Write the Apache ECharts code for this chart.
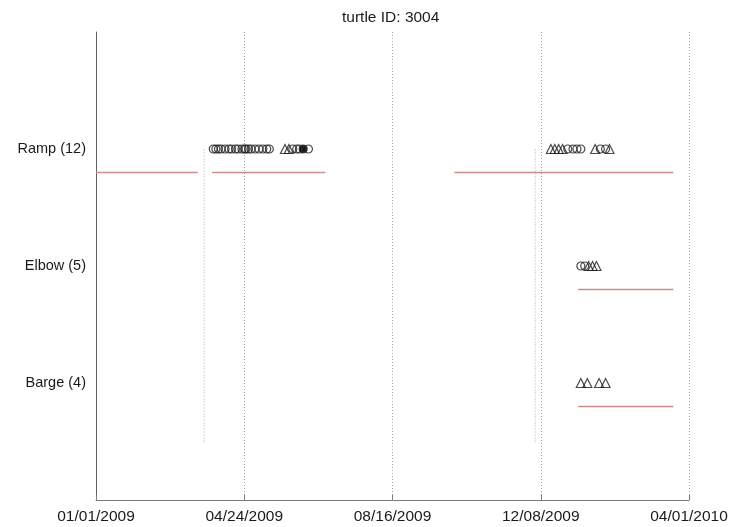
<!DOCTYPE html>
<html>
<head>
<meta charset="utf-8">
<script src="https://cdn.jsdelivr.net/npm/echarts@6/dist/echarts.min.js"></script>
<style>
  html, body { margin: 0; padding: 0; background: #fff; }
  #chart { width: 744px; height: 527px; }
</style>
</head>
<body>
<div id="chart"></div>
<script>
// Rows from bottom to top (y = 1, 2, 3)
const categories = ['Barge (4)', 'Elbow (5)', 'Ramp (12)'];
const tickLabels = ['01/01/2009', '04/24/2009', '08/16/2009', '12/08/2009', '04/01/2010'];

// Detections per site (dates)
const rampCircles = ['2009-04-01', '2009-04-03', '2009-04-05', '2009-04-07', '2009-04-10', '2009-04-13',
  '2009-04-15', '2009-04-18', '2009-04-20', '2009-04-23', '2009-04-25', '2009-04-26', '2009-04-28',
  '2009-04-30', '2009-05-03', '2009-05-06', '2009-05-09', '2009-05-12', '2009-05-14',
  '2009-06-01', '2009-06-04', '2009-06-06', '2009-06-13',
  '2009-12-29', '2010-01-02', '2010-01-05', '2010-01-08', '2010-01-23', '2010-01-27'];
const rampTriangles = ['2009-05-26', '2009-05-29', '2009-12-16', '2009-12-19', '2009-12-22',
  '2009-12-25', '2010-01-19', '2010-01-30'];
const rampFilled = ['2009-06-09'];
const elbowCircles = ['2010-01-08', '2010-01-11'];
const elbowTriangles = ['2010-01-14', '2010-01-17', '2010-01-20'];
const bargeTriangles = ['2010-01-08', '2010-01-13', '2010-01-22', '2010-01-27'];

// Receiver deployment periods per site
const rampSpans = [['2009-01-01', '2009-03-20'], ['2009-03-31', '2009-06-26'], ['2009-10-03', '2010-03-20']];
const elbowSpans = [['2010-01-06', '2010-03-20']];
const bargeSpans = [['2010-01-06', '2010-03-20']];

// Event markers (vertical dotted lines)
const eventDates = ['2009-03-25', '2009-12-04'];

const DAY0 = Date.UTC(2009, 0, 1);
function dayOf(s) {
  const [y, m, d] = s.split('-').map(Number);
  return (Date.UTC(y, m - 1, d) - DAY0) / 864e5;
}
const AXIS_MAX = 455;
const TICK = AXIS_MAX / 4;
const SPAN_OFFSET = 0.2;

const series = [];

function spanSeries(spans, row) {
  spans.forEach(([a, b]) => {
    series.push({
      type: 'line', silent: true, symbol: 'none', z: 2,
      lineStyle: { color: '#cf8c8c', width: 1.5 },
      data: [[dayOf(a), row - SPAN_OFFSET], [dayOf(b), row - SPAN_OFFSET]]
    });
  });
}
spanSeries(rampSpans, 3);
spanSeries(elbowSpans, 2);
spanSeries(bargeSpans, 1);

eventDates.forEach(d => {
  series.push({
    type: 'line', silent: true, symbol: 'none', z: 1,
    lineStyle: { color: '#b0b0b0', width: 1, type: [1, 2] },
    data: [[dayOf(d), 0.5], [dayOf(d), 3.0]]
  });
});

function markerSeries(dates, row, symbol, fill) {
  series.push({
    type: 'scatter', symbol: symbol, symbolSize: symbol === 'triangle' ? 9 : 8, z: 3,
    itemStyle: { color: fill, borderColor: '#1e1e1e', borderWidth: 1.2 },
    data: dates.map(d => [dayOf(d), row])
  });
}
markerSeries(rampCircles, 3, 'circle', 'rgba(0,0,0,0)');
markerSeries(rampTriangles, 3, 'triangle', 'rgba(0,0,0,0)');
markerSeries(rampFilled, 3, 'circle', '#000');
markerSeries(elbowCircles, 2, 'circle', 'rgba(0,0,0,0)');
markerSeries(elbowTriangles, 2, 'triangle', 'rgba(0,0,0,0)');
markerSeries(bargeTriangles, 1, 'triangle', 'rgba(0,0,0,0)');

const font = 'Liberation Sans, Arial, sans-serif';
const chart = echarts.init(document.getElementById('chart'));
chart.setOption({
  animation: false,
  backgroundColor: '#fff',
  title: {
    text: 'turtle ID: 3004', left: 337, top: 5,
    textStyle: { fontFamily: font, fontSize: 15.5, fontWeight: 'normal', color: '#1a1a1a' }
  },
  grid: { left: 96, right: 55, top: 32, bottom: 27 },
  xAxis: {
    type: 'value', min: 0, max: AXIS_MAX, interval: TICK,
    axisLine: { lineStyle: { color: '#7a7a7a', width: 1 } },
    axisTick: { inside: true, length: 5, lineStyle: { color: '#7a7a7a' } },
    splitLine: { show: true, lineStyle: { color: '#a0a0a0', type: [1, 2], width: 1 } },
    axisLabel: {
      fontFamily: font, fontSize: 15.5, color: '#1a1a1a', margin: 9,
      formatter: v => tickLabels[Math.round(v / TICK)] || ''
    }
  },
  yAxis: {
    type: 'value', min: 0, max: 4, interval: 1,
    axisLine: { show: true, lineStyle: { color: '#606060', width: 1 } },
    axisTick: { show: false },
    splitLine: { show: false },
    axisLabel: {
      fontFamily: font, fontSize: 14.5, color: '#1a1a1a', margin: 10,
      formatter: v => categories[v - 1] || ''
    }
  },
  series: series
});
</script>
</body>
</html>
